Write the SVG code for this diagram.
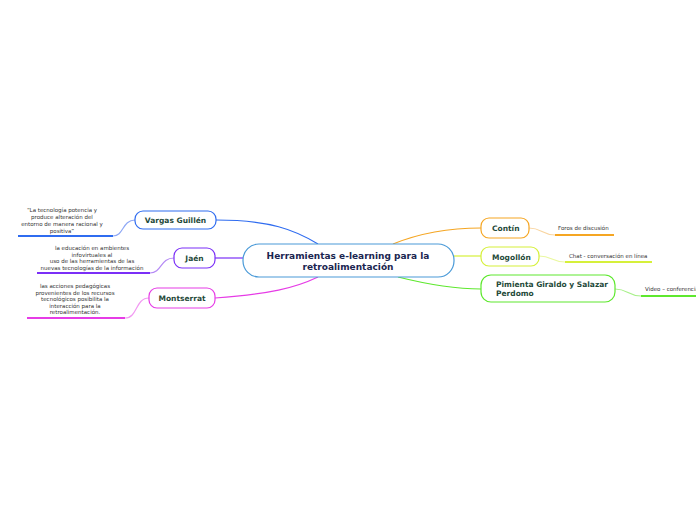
<svg xmlns="http://www.w3.org/2000/svg" width="696" height="520" viewBox="0 0 696 520">
<style>
.node{fill:#fff;stroke-width:1.2}
.t{font-family:"DejaVu Sans",Verdana,sans-serif;font-weight:bold;font-size:7.5px;fill:#1f4a3a}
.c{font-family:"DejaVu Sans",Verdana,sans-serif;font-weight:bold;font-size:9px;fill:#1a2550}
.l{font-family:"DejaVu Sans",Verdana,sans-serif;font-size:5.5px;fill:#333}
.cn{fill:none;stroke-width:1.2}
.ln{fill:none;stroke-width:1.8}
</style>
<rect width="696" height="520" fill="#fff"/>
<g id="connectors">
<path class="cn" stroke="#2f6cf0" d="M216,220 C270,220 295,230 318,244"/>
<path class="cn" stroke="#7b2ff7" d="M215,258 L243,258"/>
<path class="cn" stroke="#e63ce6" d="M215,298 C270,294 295,288 318,277"/>
<path class="cn" stroke="#f5a623" d="M393,244 C420,233 450,228 481,228"/>
<path class="cn" stroke="#d6f03a" d="M454,256 L481,256"/>
<path class="cn" stroke="#5ee82e" d="M398,277 C430,285 455,289 481,289"/>
<path class="cn" stroke="#8fa8f5" d="M135,220 C122,220 124,236 113,236"/>
<path class="ln" stroke="#2f6cf0" d="M113,236 L18,236"/>
<path class="cn" stroke="#b58af5" d="M174,258 C160,258 162,273 150,273"/>
<path class="ln" stroke="#7b2ff7" d="M150,273 L37,273"/>
<path class="cn" stroke="#f29af2" d="M149,298 C135,298 138,318 125,318"/>
<path class="ln" stroke="#e63ce6" d="M125,318 L27,318"/>
<path class="cn" stroke="#f9d5a0" d="M529,228 C542,228 542,235 555,235"/>
<path class="ln" stroke="#f5a623" d="M555,235 L614,235"/>
<path class="cn" stroke="#eaf8a0" d="M539,256 C552,256 552,262 565,262"/>
<path class="ln" stroke="#d6f03a" d="M565,262 L652,262"/>
<path class="cn" stroke="#a8f08a" d="M615,289 C628,289 628,296 641,296"/>
<path class="ln" stroke="#5ee82e" d="M641,296 L696,296"/>
</g>
<g id="central">
<rect class="node" x="243" y="244" width="211" height="33" rx="16" stroke="#4a9ad8"/>
<text class="c" x="348" y="259" text-anchor="middle">Herramientas e-learning para la</text>
<text class="c" x="348" y="270" text-anchor="middle">retroalimentación</text>
</g>
<g id="vargas">
<rect class="node" x="135" y="211" width="81" height="18" rx="8" stroke="#2f6cf0"/>
<text class="t" x="175.5" y="222.5" text-anchor="middle">Vargas Guillén</text>
</g>
<g id="jaen">
<rect class="node" x="174" y="248" width="41" height="20" rx="8" stroke="#7b2ff7"/>
<text class="t" x="194.5" y="261" text-anchor="middle">Jaén</text>
</g>
<g id="montserrat">
<rect class="node" x="149" y="288" width="66" height="20" rx="8" stroke="#e63ce6"/>
<text class="t" x="182" y="301" text-anchor="middle">Montserrat</text>
</g>
<g id="contin">
<rect class="node" x="481" y="218" width="48" height="20" rx="8" stroke="#f5a623"/>
<text class="t" x="492" y="231">Contín</text>
</g>
<g id="mogollon">
<rect class="node" x="481" y="247" width="58" height="19" rx="8" stroke="#d6f03a"/>
<text class="t" x="492" y="259.5">Mogollón</text>
</g>
<g id="pimienta">
<rect class="node" x="481" y="275" width="134" height="27" rx="10" stroke="#5ee82e"/>
<text class="t" x="496" y="287">Pimienta Giraldo y Salazar</text>
<text class="t" x="496" y="296">Perdomo</text>
</g>
<g id="leaf-vargas">
<text class="l" x="62" y="212" text-anchor="middle">“La tecnología potencia y</text>
<text class="l" x="62" y="219" text-anchor="middle">produce alteración del</text>
<text class="l" x="62" y="226" text-anchor="middle">entorno de manera racional y</text>
<text class="l" x="62" y="233" text-anchor="middle">positiva”</text>
</g>
<g id="leaf-jaen">
<text class="l" x="92" y="250" text-anchor="middle">la educación en ambientes</text>
<text class="l" x="92" y="256.5" text-anchor="middle">infovirtuales al</text>
<text class="l" x="92" y="263" text-anchor="middle">uso de las herramientas de las</text>
<text class="l" x="92" y="269.5" text-anchor="middle">nuevas tecnologías de la información</text>
</g>
<g id="leaf-montserrat">
<text class="l" x="75" y="288" text-anchor="middle">las acciones pedagógicas</text>
<text class="l" x="75" y="294.5" text-anchor="middle">provenientes de los recursos</text>
<text class="l" x="75" y="301" text-anchor="middle">tecnológicos  posibilita la</text>
<text class="l" x="75" y="307.5" text-anchor="middle">interacción para la</text>
<text class="l" x="75" y="314" text-anchor="middle">retroalimentación.</text>
</g>
<g id="leaf-contin">
<text class="l" x="558" y="230">Foros de discusión</text>
</g>
<g id="leaf-mogollon">
<text class="l" x="569" y="258">Chat -  conversación en línea</text>
</g>
<g id="leaf-pimienta">
<text class="l" x="645" y="291">Video – conferencia</text>
</g>
</svg>
